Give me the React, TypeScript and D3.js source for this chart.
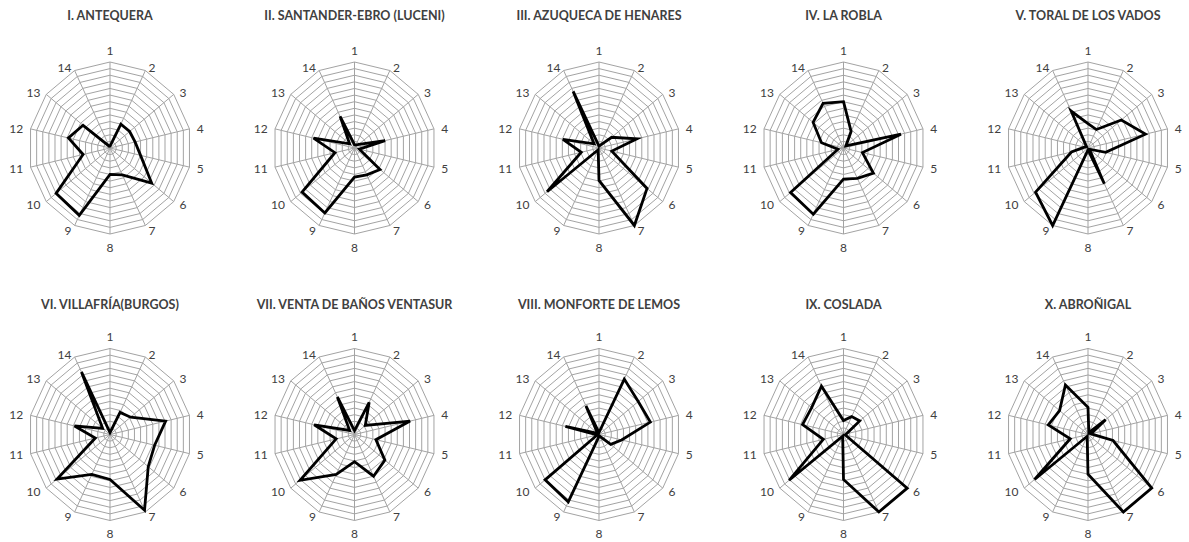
import React from "react";
import * as d3 from "d3";

const axes = ["1","2","3","4","5","6","7","8","9","10","11","12","13","14"];
const ringTicks = [1,2,3,4,5,6,7,8,9,10,11,12,13];
const maxValue = 13;

const titles = [
  "I. ANTEQUERA",
  "II. SANTANDER-EBRO (LUCENI)",
  "III. AZUQUECA DE HENARES",
  "IV. LA ROBLA",
  "V. TORAL DE LOS VADOS",
  "VI. VILLAFRÍA(BURGOS)",
  "VII. VENTA DE BAÑOS VENTASUR",
  "VIII. MONFORTE DE LEMOS",
  "IX. COSLADA",
  "X. ABROÑIGAL",
];

const antequera = [0.3, 4, 4, 4.1, 5, 8.5, 4.5, 4, 11.3, 11, 4.4, 6.8, 5.5, 0.3];
const santanderEbro = [0.5, 0.5, 0.9, 5, 0.8, 5.2, 4.5, 4.4, 10.9, 10.7, 3.2, 6.7, 1, 5.3];
const azuqueca = [0.3, 0.5, 2.6, 6.2, 2.1, 9.8, 13, 4.9, 0.3, 10.6, 2.9, 5.9, 1, 9.5];
const laRobla = [7, 2.8, 0.5, 9.4, 3.1, 6.1, 5.1, 4.7, 11.1, 10.8, 0.9, 3.6, 6.2, 7.5];
const toral = [3.7, 3.1, 6.8, 9.4, 2.9, 0.3, 6, 0.3, 13, 10.7, 2.7, 0.6, 0.3, 6.2];
const villafria = [0.3, 3.7, 4.2, 9.1, 7.3, 7.8, 12.7, 6.8, 6.7, 10.8, 2.4, 5.8, 1.5, 10.5];
const ventaBanos = [0.6, 5.4, 2.2, 9.1, 3.5, 6.2, 7, 4.1, 6.7, 11.1, 3, 6.6, 1, 6.3];
const monforte = [0.3, 9.3, 8, 8.4, 3.7, 2.4, 0.3, 0.3, 11.3, 11, 0.3, 5.5, 0.3, 4.8];
const coslada = [2.1, 3, 3.3, 0.5, 0.3, 13, 13, 6.8, 0.3, 11.1, 3.3, 6.7, 6.5, 8.1];
const abronigal = [4.1, 0.3, 3.6, 0.5, 4.1, 13, 13, 6, 0.3, 10.9, 2.9, 6.5, 5.8, 8.3];

const seriesList = [antequera, santanderEbro, azuqueca, laRobla, toral, villafria, ventaBanos, monforte, coslada, abronigal];

const W = 1189, H = 542;
const RX = 81.5, RY = 86;
const FONT = "Lato, 'Open Sans', sans-serif";

function Radar({ cx, cy, title, titleY, values }: { cx: number; cy: number; title: string; titleY: number; values: number[] }) {
  const r = d3.scaleLinear().domain([0, maxValue]).range([0, 1]);
  const angle = d3.scaleBand().domain(axes).range([0, 2 * Math.PI]).paddingInner(0).paddingOuter(0).align(0);
  const pt = (axis: string, v: number): [number, number] => {
    const a = angle(axis) as number;
    return [cx + Math.sin(a) * r(v) * RX, cy - Math.cos(a) * r(v) * RY];
  };
  const closed = d3.line<[number, number]>().curve(d3.curveLinearClosed);
  const rings = ringTicks.map((t) => closed(axes.map((ax) => pt(ax, t))) as string);
  const dataPath = closed(axes.map((ax, i) => pt(ax, values[i]))) as string;

  return (
    <g>
      <text x={cx} y={titleY} textAnchor="middle" fontFamily={FONT} fontWeight={700} fontSize={12.5} fill="#404040">{title}</text>
      {rings.map((d, i) => (
        <path key={i} d={d} fill="none" stroke="#a3a3a3" strokeWidth={1} />
      ))}
      {axes.map((ax) => {
        const [x, y] = pt(ax, maxValue);
        return <line key={ax} x1={cx} y1={cy} x2={x} y2={y} stroke="#a3a3a3" strokeWidth={1} />;
      })}
      {axes.map((ax) => {
        const a = angle(ax) as number;
        const [x, y] = pt(ax, maxValue);
        const s = Math.sin(a), c = Math.cos(a);
        let anchor = "middle";
        let tx = x, ty = y;
        if (Math.abs(s) < 0.01) {
          ty = c > 0 ? y - 11.5 : y + 13.5;
        } else {
          anchor = s > 0 ? "start" : "end";
          tx = x + s * 7.5;
          ty = y + (c > 0 ? -c * 2.8 : -c * 5.5);
        }
        return (
          <text key={ax} x={tx} y={ty} dy="0.36em" textAnchor={anchor} fontFamily={FONT} fontSize={12} fill="#404040">{ax}</text>
        );
      })}
      <path d={dataPath} fill="none" stroke="#000" strokeWidth={2.8} strokeLinejoin="miter" />
    </g>
  );
}

export default function App() {
  const colX = d3.range(5).map((i) => 110 + 244.5 * i);
  const rowY = [148, 434.5];
  const titleYs = [19.5, 308.5];
  return (
    <svg width={W} height={H} style={{ position: "absolute", left: 0, top: 0, background: "#fff" }}>
      <rect width={W} height={H} fill="#fff" />
      {seriesList.map((vals, i) => (
        <Radar key={i} cx={colX[i % 5]} cy={rowY[Math.floor(i / 5)]} title={titles[i]} titleY={titleYs[Math.floor(i / 5)]} values={vals} />
      ))}
    </svg>
  );
}
